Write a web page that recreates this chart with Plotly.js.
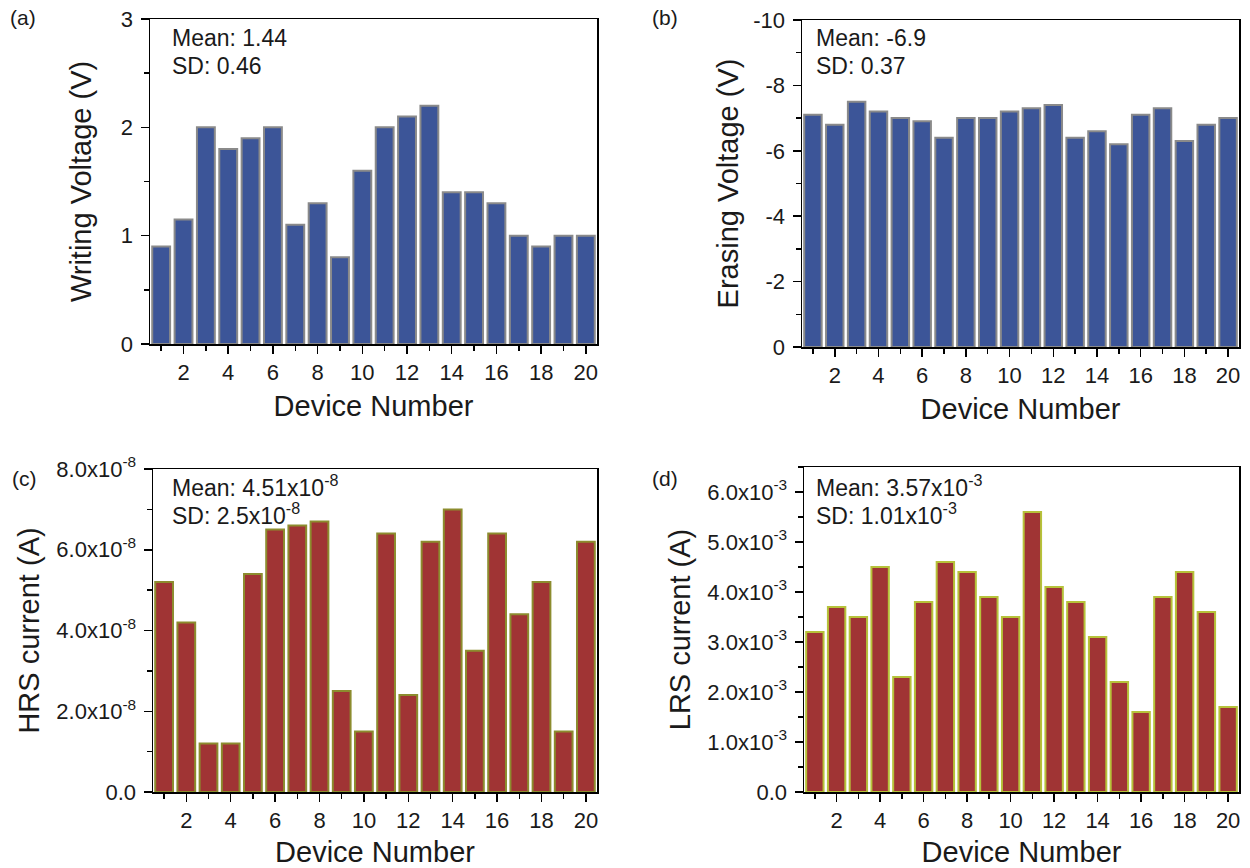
<!DOCTYPE html>
<html>
<head>
<meta charset="utf-8">
<script src="https://cdn.plot.ly/plotly-3.0.1.min.js"></script>
<style>html,body{margin:0;padding:0;background:#fff;}#chart{width:1250px;height:868px;}</style>
</head>
<body>
<div id="chart"></div>
<script>
var devices = [1,2,3,4,5,6,7,8,9,10,11,12,13,14,15,16,17,18,19,20];
var writingVoltage = [0.9,1.15,2.0,1.8,1.9,2.0,1.1,1.3,0.8,1.6,2.0,2.1,2.2,1.4,1.4,1.3,1.0,0.9,1.0,1.0];
var erasingVoltage = [-7.1,-6.8,-7.5,-7.2,-7.0,-6.9,-6.4,-7.0,-7.0,-7.2,-7.3,-7.4,-6.4,-6.6,-6.2,-7.1,-7.3,-6.3,-6.8,-7.0];
var hrsCurrent = [5.2e-8,4.2e-8,1.2e-8,1.2e-8,5.4e-8,6.5e-8,6.6e-8,6.7e-8,2.5e-8,1.5e-8,6.4e-8,2.4e-8,6.2e-8,7.0e-8,3.5e-8,6.4e-8,4.4e-8,5.2e-8,1.5e-8,6.2e-8];
var lrsCurrent = [3.2e-3,3.7e-3,3.5e-3,4.5e-3,2.3e-3,3.8e-3,4.6e-3,4.4e-3,3.9e-3,3.5e-3,5.6e-3,4.1e-3,3.8e-3,3.1e-3,2.2e-3,1.6e-3,3.9e-3,4.4e-3,3.6e-3,1.7e-3];

var erasingTickVals = [0,-2,-4,-6,-8,-10];
var erasingTickText = ['0','-2','-4','-6','-8','-10'];
var hrsTickVals = [0,2e-8,4e-8,6e-8,8e-8];
var hrsTickText = ['0.0','2.0x10<sup>-8</sup>','4.0x10<sup>-8</sup>','6.0x10<sup>-8</sup>','8.0x10<sup>-8</sup>'];
var lrsTickVals = [0,1e-3,2e-3,3e-3,4e-3,5e-3,6e-3];
var lrsTickText = ['0.0','1.0x10<sup>-3</sup>','2.0x10<sup>-3</sup>','3.0x10<sup>-3</sup>','4.0x10<sup>-3</sup>','5.0x10<sup>-3</sup>','6.0x10<sup>-3</sup>'];

var statsText = {
  a: ['Mean: 1.44','SD: 0.46'],
  b: ['Mean: -6.9','SD: 0.37'],
  c: ['Mean: 4.51x10<sup>-8</sup>','SD: 2.5x10<sup>-8</sup>'],
  d: ['Mean: 3.57x10<sup>-3</sup>','SD: 1.01x10<sup>-3</sup>']
};

var FONT = 'Liberation Sans, Arial, sans-serif';
var TXT = '#1a1a1a';
var W = 1250, H = 868;
function dx(a,b){return [a/W, b/W];}
function dy(top,bot){return [1-bot/H, 1-top/H];}

function bar(x,y,xa,ya,fill,edge){
  return {type:'bar', x:x, y:y, xaxis:xa, yaxis:ya, width:0.8,
    marker:{color:fill, line:{color:edge, width:2}}, hoverinfo:'x+y', showlegend:false};
}

var data = [
  bar(devices, writingVoltage, 'x', 'y', '#3c5598', '#8a8a8a'),
  bar(devices, erasingVoltage, 'x2', 'y2', '#3c5598', '#8a8a8a'),
  bar(devices, hrsCurrent, 'x3', 'y3', '#a03434', '#8c8c2e'),
  bar(devices, lrsCurrent, 'x4', 'y4', '#a03434', '#b6c23a')
];

function xaxis(domain, anchor){
  return {domain:domain, anchor:anchor, range:[0.5,20.5], tickmode:'linear', tick0:2, dtick:2,
    ticks:'outside', ticklen:8, tickwidth:1.5, tickcolor:'#000',
    minor:{tickmode:'linear', tick0:1, dtick:2, ticks:'outside', ticklen:5, tickwidth:1.5, tickcolor:'#000'},
    showline:true, mirror:true, linecolor:'#000', linewidth:1.5, showgrid:false, zeroline:false,
    tickfont:{family:FONT, size:22, color:TXT},
    title:{text:'Device Number', font:{family:FONT, size:29, color:TXT}, standoff:12}};
}
function yaxisBase(domain, anchor){
  return {domain:domain, anchor:anchor, ticks:'outside', ticklen:8, tickwidth:1.5, tickcolor:'#000',
    showline:true, mirror:true, linecolor:'#000', linewidth:1.5, showgrid:false, zeroline:false,
    ticklabelstandoff:3,
    tickfont:{family:FONT, size:22, color:TXT}};
}

var ya = yaxisBase(dy(19,344),'x');
ya.range=[0,3]; ya.tickmode='linear'; ya.tick0=0; ya.dtick=1;
ya.minor={tickmode:'linear', tick0:0.5, dtick:1, ticks:'outside', ticklen:5, tickwidth:1.5, tickcolor:'#000'};
ya.title={text:'Writing Voltage (V)', font:{family:FONT, size:29, color:TXT}, standoff:20};

var yb = yaxisBase(dy(20,347),'x2');
yb.range=[0,-10]; yb.tickmode='array'; yb.tickvals=erasingTickVals; yb.ticktext=erasingTickText;
yb.minor={tickmode:'linear', tick0:-1, dtick:2, ticks:'outside', ticklen:5, tickwidth:1.5, tickcolor:'#000'};
yb.title={text:'Erasing Voltage (V)', font:{family:FONT, size:29, color:TXT}, standoff:6};

var yc = yaxisBase(dy(469,792),'x3');
yc.range=[0,8e-8]; yc.tickmode='array'; yc.tickvals=hrsTickVals; yc.ticktext=hrsTickText;
yc.minor={tickmode:'linear', tick0:1e-8, dtick:2e-8, ticks:'outside', ticklen:5, tickwidth:1.5, tickcolor:'#000'};
yc.title={text:'HRS current (A)', font:{family:FONT, size:29, color:TXT}, standoff:8};

var yd = yaxisBase(dy(467,792),'x4');
yd.range=[0,6.5e-3]; yd.tickmode='array'; yd.tickvals=lrsTickVals; yd.ticktext=lrsTickText;
yd.minor={tickmode:'linear', tick0:0.5e-3, dtick:1e-3, ticks:'outside', ticklen:5, tickwidth:1.5, tickcolor:'#000'};
yd.title={text:'LRS current (A)', font:{family:FONT, size:29, color:TXT}, standoff:8};

function ann(text, x, y, size, xanchor){
  return {text:text, xref:'paper', yref:'paper', x:x/W, y:1-y/H, xanchor:xanchor||'left', yanchor:'middle',
    showarrow:false, font:{family:FONT, size:size, color:TXT}};
}

var annotations = [
  ann('(a)', 8, 18, 21), ann('(b)', 650, 18, 21), ann('(c)', 10, 478, 21), ann('(d)', 650, 478, 21),
  ann(statsText.a[0], 170, 38, 23), ann(statsText.a[1], 170, 66, 23),
  ann(statsText.b[0], 814, 38, 23), ann(statsText.b[1], 814, 66, 23),
  ann(statsText.c[0], 170, 486, 23), ann(statsText.c[1], 170, 514, 23),
  ann(statsText.d[0], 814, 486, 23), ann(statsText.d[1], 814, 514, 23)
];

var layout = {
  width:W, height:H, margin:{l:0,r:0,t:0,b:0}, paper_bgcolor:'#fff', plot_bgcolor:'#fff',
  bargap:0.2, showlegend:false, font:{family:FONT, color:TXT},
  xaxis: xaxis(dx(150,597),'y'), yaxis: ya,
  xaxis2: xaxis(dx(802,1239),'y2'), yaxis2: yb,
  xaxis3: xaxis(dx(153,597),'y3'), yaxis3: yc,
  xaxis4: xaxis(dx(804,1239),'y4'), yaxis4: yd,
  annotations: annotations
};

Plotly.newPlot('chart', data, layout, {staticPlot:true});
</script>
</body>
</html>
